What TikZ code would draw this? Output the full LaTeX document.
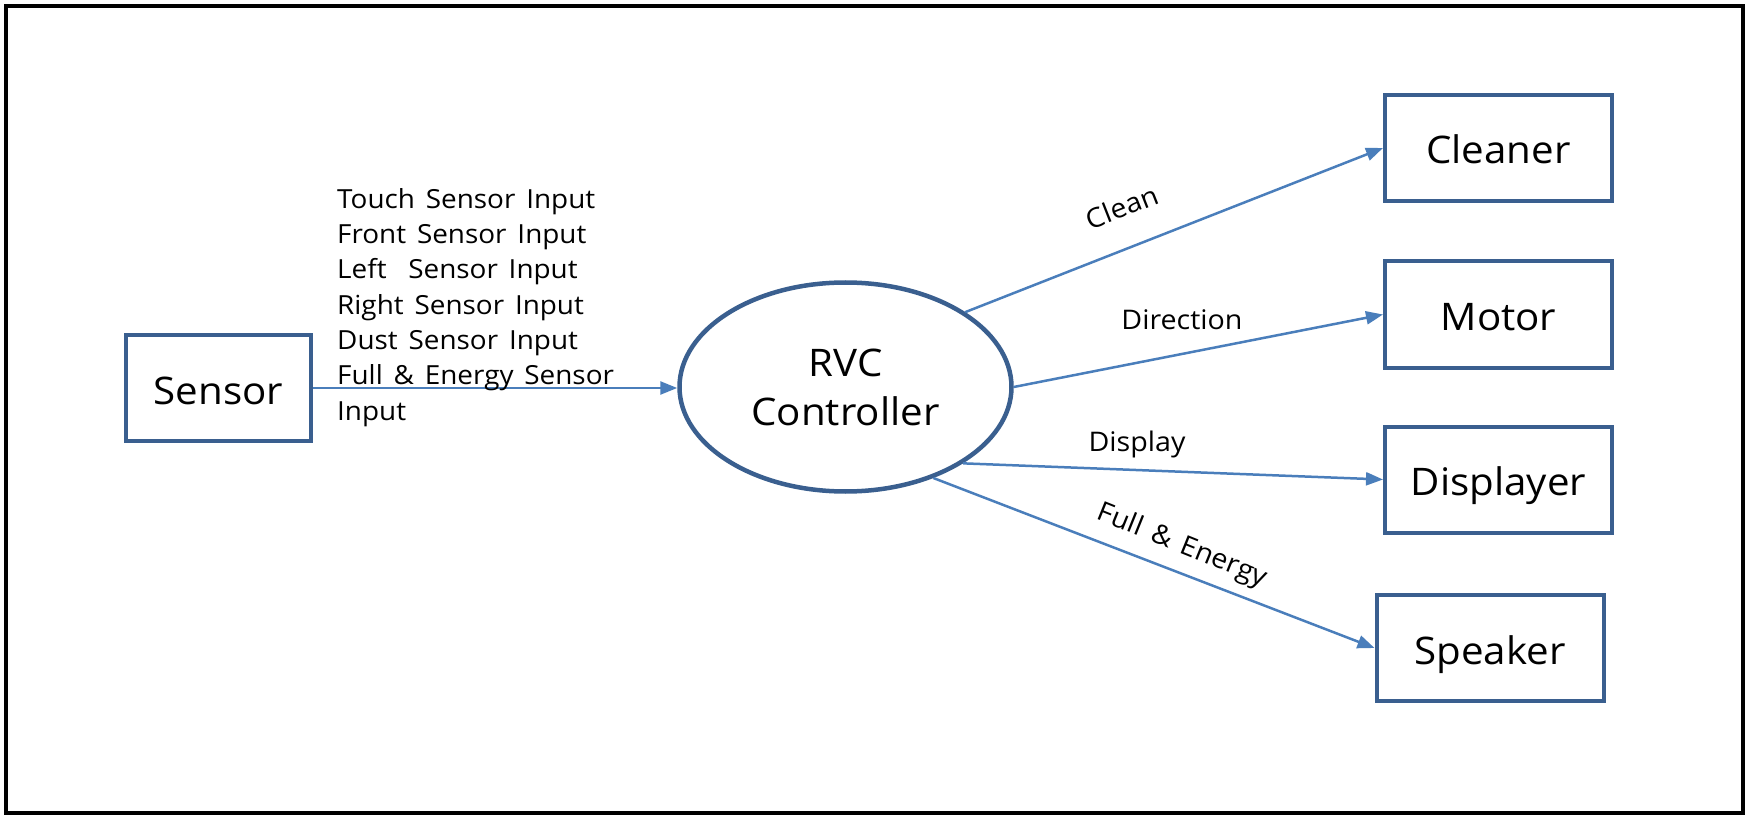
\documentclass[tikz,border=0pt]{standalone}
\usepackage{fontspec}
\setmainfont[FakeStretch=1.06,WordSpace=1.5]{Open Sans}
\usetikzlibrary{arrows.meta,shapes.geometric}
\definecolor{boxblue}{HTML}{3A5F8F}
\definecolor{arrowblue}{HTML}{4A7EBB}
\begin{document}
\begin{tikzpicture}[x=1pt,y=-1pt,
  blk/.style={draw=boxblue, line width=4pt, minimum width=227pt, minimum height=106pt, inner sep=0pt, text height=40pt, text depth=8pt, font=\fontsize{38}{46}\selectfont},
  ctl/.style={ellipse, draw=boxblue, line width=4.5pt, minimum width=332pt, minimum height=209pt, inner sep=0pt, align=center, font=\fontsize{38}{49}\selectfont},
  flow/.style={draw=arrowblue, line width=2.5pt, -{Triangle[length=17pt,width=13pt]}},
  lbl/.style={font=\fontsize{27}{32}\selectfont, inner sep=0pt},
  inlist/.style={font=\fontsize{26.3}{35.3}\selectfont, inner sep=0pt, align=left}
]
\useasboundingbox (0,0) rectangle (1746,818);
\draw[line width=4.5pt] (6,6) rectangle (1743,813);
\node[blk, minimum width=185pt] (sensor) at (218.5,388) {Sensor};
\node[ctl] (ctrl) at (845.5,387) {RVC\\Controller};
\node[blk] (cleaner) at (1498.5,148) {Cleaner};
\node[blk] (motor) at (1498.5,314.5) {Motor};
\node[blk] (disp) at (1498.5,479.5) {Displayer};
\node[blk] (speaker) at (1490,648) {Speaker};
\draw[flow] (sensor.east) -- (sensor.east -| ctrl.west);
\draw[flow] (ctrl.32) -- (cleaner.west);
\draw[flow] (ctrl.east) -- (motor.west);
\draw[flow] (ctrl.-33) -- (disp.west);
\draw[flow] (ctrl.-46) -- (speaker.west);
\node[lbl, rotate=21.5] (lclean) at (1122,207) {Clean};
\node[lbl] (ldir) at (1182,320) {Direction};
\node[lbl] (ldisp) at (1137,444) {Display};
\node[lbl, rotate=-22] (lfull) at (1182,546) {Full \& Energy};
\node[inlist, anchor=base west] (inputs) at (337,420) {Touch Sensor Input\\Front Sensor Input\\Left\ \ Sensor Input\\Right Sensor Input\\Dust Sensor Input\\Full \& Energy Sensor\\Input};
\end{tikzpicture}
\end{document}
